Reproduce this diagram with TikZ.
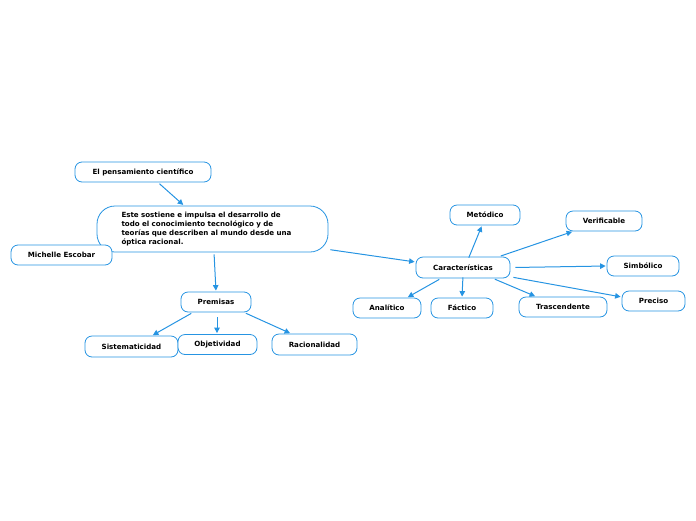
\documentclass[tikz,border=0pt]{standalone}
\usepackage{fontspec}
\setmainfont{DejaVu Sans}
\usetikzlibrary{arrows.meta}
\definecolor{mmblue}{RGB}{38,148,226}
\tikzset{
  box/.style={draw=mmblue, line width=0.8pt, rounded corners=7pt, fill=white,
    font=\fontsize{7.1}{8.7}\selectfont\bfseries, inner sep=0pt, minimum height=20pt},
  link/.style={draw=mmblue, line width=1pt, -{Triangle[length=5.5pt,width=5.5pt]}, shorten <=2pt, shorten >=1pt}
}
\begin{document}
\begin{tikzpicture}[x=1pt,y=-1pt]
\useasboundingbox (0,0) rectangle (696,520);
\node[box, minimum width=136pt] (pc) at (143,172) {El pensamiento científico};
\node[box, minimum width=231pt, minimum height=46pt, rounded corners=18pt, text width=222pt, align=left] (main) at (212.5,229)
  {\hspace*{20pt}Este sostiene e impulsa el desarrollo de\\\hspace*{20pt}todo el conocimiento tecnológico y de\\\hspace*{20pt}teorías que describen al mundo desde una\\\hspace*{20pt}óptica racional.};
\node[box, minimum width=101pt] (me) at (61.5,255) {Michelle Escobar};
\node[box, minimum width=70pt] (pr) at (216,302) {Premisas};
\node[box, minimum width=93pt, minimum height=21pt] (si) at (131.5,346.5) {Sistematicidad};
\node[box, minimum width=79pt] (ob) at (217.5,344.5) {Objetividad};
\node[box, minimum width=85pt, minimum height=21pt] (ra) at (314.5,344.5) {Racionalidad};
\node[box, minimum width=94pt, minimum height=21pt] (ca) at (463,267.5) {Características};
\node[box, minimum width=70pt] (mt) at (485,215) {Metódico};
\node[box, minimum width=76pt] (ve) at (604,221) {Verificable};
\node[box, minimum width=72pt] (sb) at (643,266) {Simbólico};
\node[box, minimum width=63pt] (pe) at (653.5,301) {Preciso};
\node[box, minimum width=68pt] (an) at (387,308) {Analítico};
\node[box, minimum width=62pt] (fa) at (462,308) {Fáctico};
\node[box, minimum width=88pt] (tr) at (563,307) {Trascendente};
\draw[link] (pc.south -| 158,0) -- (main.north -| 184,0);
\draw[link] ([xshift=1.5pt]main.south) -- (pr.north);
\draw[link] (main.350) -- (ca.west |- 0,262);
\draw[link] (pr.south -| 193,0) -- (si.north -| 152,0);
\draw[link] ([yshift=-3pt]pr.south -| 217,0) -- (ob.north -| 217,0);
\draw[link] (pr.south -| 244,0) -- (ra.north -| 291,0);
\draw[link] ([yshift=-3pt]ca.north -| 468,0) -- (mt.south -| 482,0);
\draw[link] (ca.north -| 499,0) -- (ve.south -| 573,0);
\draw[link] ([xshift=3pt]ca.east) -- (sb.west);
\draw[link] ([xshift=1pt]ca.east |- 0,277) -- (pe.west |- 0,297);
\draw[link] (ca.south -| 441,0) -- (an.north -| 407,0);
\draw[link] ([yshift=3pt]ca.south -| 463,0) -- (fa.north -| 462,0);
\draw[link] (ca.south -| 493,0) -- (tr.north -| 536,0);
\end{tikzpicture}
\end{document}
